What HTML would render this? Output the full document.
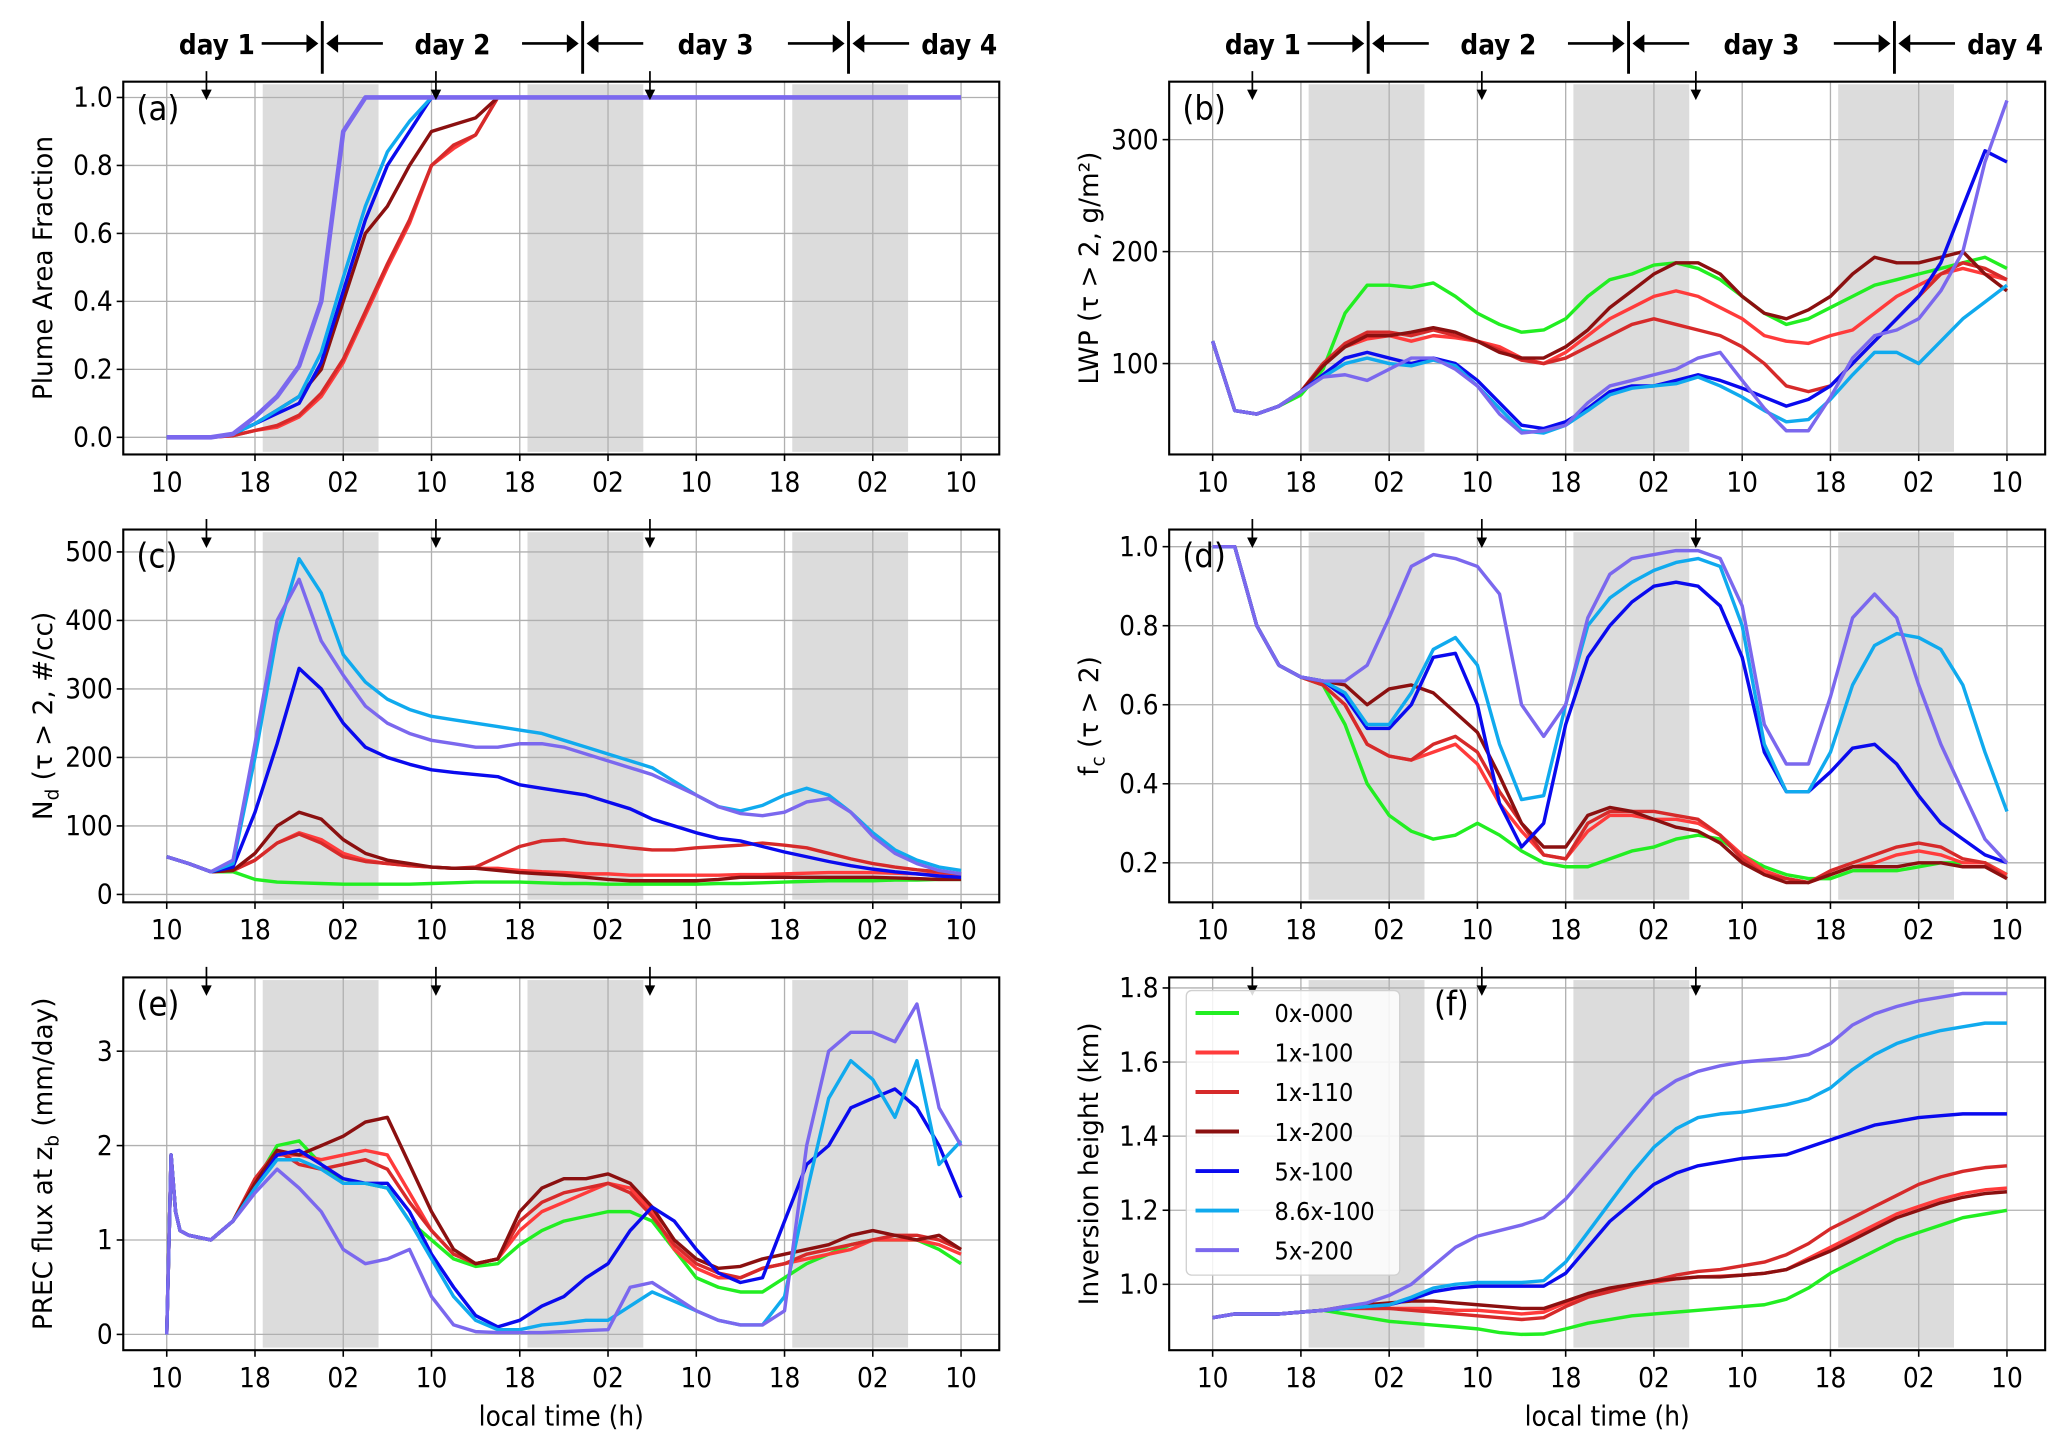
<!DOCTYPE html>
<html><head><meta charset="utf-8">
<style>
html,body{margin:0;padding:0;background:#fff;}
svg{display:block;}
.tk{font-family:"DejaVu Sans Condensed","Liberation Sans Narrow","Liberation Sans",sans-serif;font-size:21px;fill:#000;}
.yl{font-family:"DejaVu Sans","Liberation Sans",sans-serif;font-size:20px;fill:#000;}
.hd{font-family:"DejaVu Sans Condensed","Liberation Sans Narrow","Liberation Sans",sans-serif;font-size:21px;font-weight:bold;fill:#000;}
.pl{font-family:"DejaVu Sans Condensed","Liberation Sans Narrow","Liberation Sans",sans-serif;font-size:26px;fill:#000;}
.lg{font-family:"DejaVu Sans Condensed","Liberation Sans Narrow","Liberation Sans",sans-serif;font-size:19px;fill:#000;}
</style></head>
<body>
<svg id="fig" width="2067" height="1449" viewBox="0 0 1568 1100" xmlns="http://www.w3.org/2000/svg"></svg>
<script>
// ---- data (values at local-time hours T, starting 10:00 day 1) ----
const T = [0,2,4,6,8,10,12,14,16,18,20,22,24,26,28,30,32,34,36,38,40,42,44,46,48,50,52,54,56,58,60,62,64,66,68,70,72];
const TE = [0,0.4,0.8,1.2,2,4,6,8,10,12,14,16,18,20,22,24,26,28,30,32,34,36,38,40,42,44,46,48,50,52,54,56,58,60,62,64,66,68,70,72];
const seriesNames = ["0x-000","1x-100","1x-110","1x-200","5x-100","8.6x-100","5x-200"];
const xTicks = [0,8,16,24,32,40,48,56,64,72];
const xTickLabels = ["10","18","02","10","18","02","10","18","02","10"];
const nightStart = [8.7,32.7,56.7];
const nightEnd = [19.2,43.2,67.2];
const arrowTimes = [3.6,24.4,43.8];
const daySeps = [14.1,37.7,61.8];
const N=null;

const aTicks=[0,0.2,0.4,0.6,0.8,1.0], aLabels=["0.0","0.2","0.4","0.6","0.8","1.0"];
const a0=[N,N,N,N,N,N,N,N,N,N,N,N,N,N,N,N,N,N,N,N,N,N,N,N,N,N,N,N,N,N,N,N,N,N,N,N,N];
const a1=[0,0,0,0.005,0.02,0.03,0.06,0.12,0.22,0.36,0.5,0.63,0.8,0.85,0.89,1,N,N,N,N,N,N,N,N,N,N,N,N,N,N,N,N,N,N,N,N,N];
const a2=[0,0,0,0.005,0.02,0.035,0.065,0.13,0.23,0.37,0.51,0.64,0.8,0.86,0.89,1,N,N,N,N,N,N,N,N,N,N,N,N,N,N,N,N,N,N,N,N,N];
const a3=[0,0,0,0.01,0.04,0.08,0.12,0.2,0.4,0.6,0.68,0.8,0.9,0.92,0.94,1,N,N,N,N,N,N,N,N,N,N,N,N,N,N,N,N,N,N,N,N,N];
const a4=[0,0,0,0.01,0.04,0.07,0.1,0.22,0.43,0.64,0.8,0.9,1,N,N,N,N,N,N,N,N,N,N,N,N,N,N,N,N,N,N,N,N,N,N,N,N];
const a5=[0,0,0,0.01,0.04,0.08,0.12,0.25,0.47,0.68,0.84,0.93,1,N,N,N,N,N,N,N,N,N,N,N,N,N,N,N,N,N,N,N,N,N,N,N,N];
const a6=[0,0,0,0.01,0.06,0.12,0.21,0.4,0.9,1,1,1,1,1,1,1,1,1,1,1,1,1,1,1,1,1,1,1,1,1,1,1,1,1,1,1,1];

const bTicks=[100,200,300], bLabels=["100","200","300"];
const b0=[120,58,55,62,72,95,145,170,170,168,172,160,145,135,128,130,140,160,175,180,188,190,185,175,160,145,135,140,150,160,170,175,180,185,190,195,185];
const b1=[120,58,55,62,75,100,115,122,125,120,125,123,120,115,105,100,110,125,140,150,160,165,160,150,140,125,120,118,125,130,145,160,170,180,185,180,175];
const b2=[120,58,55,62,75,100,118,128,128,125,130,125,120,112,103,100,105,115,125,135,140,135,130,125,115,100,80,75,80,100,120,140,160,180,190,185,175];
const b3=[120,58,55,62,75,98,115,125,125,128,132,128,120,110,105,105,115,130,150,165,180,190,190,180,160,145,140,148,160,180,195,190,190,195,200,180,165];
const b4=[120,58,55,62,75,90,105,110,105,100,105,100,85,65,45,42,48,60,75,80,80,85,90,85,78,70,62,68,80,100,120,140,160,190,240,290,280];
const b5=[120,58,55,62,75,88,100,105,100,98,103,98,80,60,40,38,45,58,72,78,80,82,88,80,70,58,48,50,68,90,110,110,100,120,140,155,170];
const b6=[120,58,55,62,75,88,90,85,95,105,105,95,80,55,38,40,45,65,80,85,90,95,105,110,85,60,40,40,70,105,125,130,140,165,200,280,335];

const cTicks=[0,100,200,300,400,500], cLabels=["0","100","200","300","400","500"];
const c0=[55,45,33,33,22,18,17,16,15,15,15,15,16,17,18,18,18,17,16,16,15,15,15,15,15,16,16,17,18,19,20,20,20,21,21,22,22];
const c1=[55,45,33,35,50,75,90,80,60,50,45,42,40,38,38,38,35,33,32,30,30,28,28,28,28,28,29,29,30,31,32,32,32,31,30,29,28];
const c2=[55,45,33,35,50,75,88,75,55,48,45,42,40,38,40,55,70,78,80,75,72,68,65,65,68,70,72,75,72,68,60,52,45,40,36,33,30];
const c3=[55,45,33,35,60,100,120,110,80,60,50,45,40,38,38,35,32,30,28,25,22,20,20,20,20,22,25,25,25,25,25,25,25,24,23,22,22];
const c4=[55,45,33,40,120,220,330,300,250,215,200,190,182,178,175,172,160,155,150,145,135,125,110,100,90,82,78,70,62,55,48,42,37,33,30,27,25];
const c5=[55,45,33,45,200,380,490,440,350,310,285,270,260,255,250,245,240,235,225,215,205,195,185,165,145,128,122,130,145,155,145,120,90,65,50,40,35];
const c6=[55,45,33,50,220,400,460,370,320,275,250,235,225,220,215,215,220,220,215,205,195,185,175,160,145,128,118,115,120,135,140,120,85,60,45,35,30];

const dTicks=[0.2,0.4,0.6,0.8,1.0], dLabels=["0.2","0.4","0.6","0.8","1.0"];
const d0=[1,1,0.8,0.7,0.67,0.65,0.55,0.4,0.32,0.28,0.26,0.27,0.3,0.27,0.23,0.2,0.19,0.19,0.21,0.23,0.24,0.26,0.27,0.26,0.22,0.19,0.17,0.16,0.16,0.18,0.18,0.18,0.19,0.2,0.2,0.2,0.17];
const d1=[1,1,0.8,0.7,0.67,0.65,0.6,0.5,0.47,0.46,0.48,0.5,0.45,0.35,0.28,0.22,0.21,0.28,0.32,0.32,0.31,0.31,0.3,0.27,0.22,0.18,0.16,0.15,0.17,0.19,0.2,0.22,0.23,0.22,0.2,0.2,0.17];
const d2=[1,1,0.8,0.7,0.67,0.65,0.6,0.5,0.47,0.46,0.5,0.52,0.48,0.38,0.3,0.22,0.21,0.3,0.33,0.33,0.33,0.32,0.31,0.27,0.21,0.17,0.16,0.15,0.18,0.2,0.22,0.24,0.25,0.24,0.21,0.2,0.16];
const d3=[1,1,0.8,0.7,0.67,0.66,0.65,0.6,0.64,0.65,0.63,0.58,0.53,0.42,0.3,0.24,0.24,0.32,0.34,0.33,0.31,0.29,0.28,0.25,0.2,0.17,0.15,0.15,0.17,0.19,0.19,0.19,0.2,0.2,0.19,0.19,0.16];
const d4=[1,1,0.8,0.7,0.67,0.66,0.62,0.54,0.54,0.6,0.72,0.73,0.6,0.35,0.24,0.3,0.55,0.72,0.8,0.86,0.9,0.91,0.9,0.85,0.72,0.48,0.38,0.38,0.43,0.49,0.5,0.45,0.37,0.3,0.26,0.22,0.2];
const d5=[1,1,0.8,0.7,0.67,0.66,0.63,0.55,0.55,0.63,0.74,0.77,0.7,0.5,0.36,0.37,0.6,0.8,0.87,0.91,0.94,0.96,0.97,0.95,0.8,0.5,0.38,0.38,0.48,0.65,0.75,0.78,0.77,0.74,0.65,0.48,0.33];
const d6=[1,1,0.8,0.7,0.67,0.66,0.66,0.7,0.82,0.95,0.98,0.97,0.95,0.88,0.6,0.52,0.6,0.82,0.93,0.97,0.98,0.99,0.99,0.97,0.85,0.55,0.45,0.45,0.62,0.82,0.88,0.82,0.65,0.5,0.38,0.26,0.2];

const eTicks=[0,1,2,3], eLabels=["0","1","2","3"];
const e0=[0,1.9,1.3,1.1,1.05,1.0,1.2,1.6,2.0,2.05,1.8,1.6,1.6,1.55,1.2,1.0,0.8,0.72,0.75,0.95,1.1,1.2,1.25,1.3,1.3,1.2,0.9,0.6,0.5,0.45,0.45,0.6,0.75,0.85,0.95,1.0,1.0,1.0,0.9,0.75];
const e1=[0,1.9,1.3,1.1,1.05,1.0,1.2,1.6,1.9,1.9,1.85,1.9,1.95,1.9,1.5,1.1,0.85,0.75,0.8,1.1,1.3,1.4,1.5,1.6,1.55,1.3,0.9,0.7,0.6,0.6,0.7,0.75,0.8,0.85,0.9,1.0,1.0,1.0,0.95,0.85];
const e2=[0,1.9,1.3,1.1,1.05,1.0,1.2,1.65,1.95,1.8,1.75,1.8,1.85,1.75,1.4,1.1,0.85,0.75,0.8,1.2,1.4,1.5,1.55,1.6,1.5,1.25,0.95,0.75,0.65,0.6,0.7,0.75,0.85,0.9,0.95,1.0,1.05,1.05,1.0,0.9];
const e3=[0,1.9,1.3,1.1,1.05,1.0,1.2,1.6,1.95,1.9,2.0,2.1,2.25,2.3,1.8,1.3,0.9,0.75,0.8,1.3,1.55,1.65,1.65,1.7,1.6,1.35,1.0,0.8,0.7,0.72,0.8,0.85,0.9,0.95,1.05,1.1,1.05,1.0,1.05,0.9];
const e4=[0,1.9,1.3,1.1,1.05,1.0,1.2,1.55,1.9,1.95,1.8,1.65,1.6,1.6,1.3,0.85,0.5,0.2,0.08,0.15,0.3,0.4,0.6,0.75,1.1,1.35,1.2,0.9,0.65,0.55,0.6,1.2,1.8,2.0,2.4,2.5,2.6,2.4,2.0,1.45];
const e5=[0,1.9,1.3,1.1,1.05,1.0,1.2,1.55,1.85,1.85,1.75,1.6,1.6,1.55,1.2,0.8,0.4,0.15,0.05,0.05,0.1,0.12,0.15,0.15,0.3,0.45,0.35,0.25,0.15,0.1,0.1,0.4,1.5,2.5,2.9,2.7,2.3,2.9,1.8,2.05];
const e6=[0,1.9,1.3,1.1,1.05,1.0,1.2,1.5,1.75,1.55,1.3,0.9,0.75,0.8,0.9,0.4,0.1,0.03,0.02,0.02,0.02,0.03,0.04,0.05,0.5,0.55,0.4,0.25,0.15,0.1,0.1,0.25,2.0,3.0,3.2,3.2,3.1,3.5,2.4,2.0];

const fTicks=[1.0,1.2,1.4,1.6,1.8], fLabels=["1.0","1.2","1.4","1.6","1.8"];
const f0=[0.91,0.92,0.92,0.92,0.925,0.93,0.92,0.91,0.9,0.895,0.89,0.885,0.88,0.87,0.865,0.866,0.88,0.895,0.905,0.915,0.92,0.925,0.93,0.935,0.94,0.945,0.96,0.99,1.03,1.06,1.09,1.12,1.14,1.16,1.18,1.19,1.2];
const f1=[0.91,0.92,0.92,0.92,0.925,0.93,0.935,0.935,0.935,0.935,0.935,0.93,0.93,0.925,0.92,0.925,0.95,0.97,0.985,0.995,1.005,1.015,1.02,1.022,1.025,1.03,1.04,1.07,1.1,1.13,1.16,1.19,1.21,1.23,1.245,1.255,1.26];
const f2=[0.91,0.92,0.92,0.92,0.925,0.93,0.935,0.935,0.935,0.93,0.925,0.92,0.915,0.91,0.905,0.91,0.94,0.965,0.98,0.995,1.01,1.025,1.035,1.04,1.05,1.06,1.08,1.11,1.15,1.18,1.21,1.24,1.27,1.29,1.305,1.315,1.32];
const f3=[0.91,0.92,0.92,0.92,0.925,0.93,0.94,0.945,0.95,0.955,0.955,0.95,0.945,0.94,0.935,0.935,0.955,0.975,0.99,1.0,1.01,1.015,1.02,1.02,1.025,1.03,1.04,1.065,1.09,1.12,1.15,1.18,1.2,1.22,1.235,1.245,1.25];
const f4=[0.91,0.92,0.92,0.92,0.925,0.93,0.935,0.94,0.945,0.96,0.98,0.99,0.995,0.995,0.995,0.995,1.03,1.1,1.17,1.22,1.27,1.3,1.32,1.33,1.34,1.345,1.35,1.37,1.39,1.41,1.43,1.44,1.45,1.455,1.46,1.46,1.46];
const f5=[0.91,0.92,0.92,0.92,0.925,0.93,0.935,0.94,0.945,0.965,0.99,1.0,1.005,1.005,1.005,1.01,1.06,1.14,1.22,1.3,1.37,1.42,1.45,1.46,1.465,1.475,1.485,1.5,1.53,1.58,1.62,1.65,1.67,1.685,1.695,1.705,1.705];
const f6=[0.91,0.92,0.92,0.92,0.925,0.93,0.94,0.95,0.97,1.0,1.05,1.1,1.13,1.145,1.16,1.18,1.23,1.3,1.37,1.44,1.51,1.55,1.575,1.59,1.6,1.605,1.61,1.62,1.65,1.7,1.73,1.75,1.765,1.775,1.785,1.785,1.785];

const colors=["#22ee22","#ff3b3b","#d62a2a","#8b1010","#0a0aee","#10aaee","#7b68ee"];

// ---- drawing ----
const svg=document.getElementById('fig');
const NS="http://www.w3.org/2000/svg";
function mk(tag,attrs,parent){const e=document.createElementNS(NS,tag);for(const k in attrs)e.setAttribute(k,attrs[k]);(parent||svg).appendChild(e);return e;}

const panels=[
 {id:"a",x0:93,x1:758,y0:62,y1:345,tx0:126,v0:0,py0:332,v1:1,py1:74,ticks:aTicks,labels:aLabels,data:[a0,a1,a2,a3,a4,a5,a6],t:T,ylab:"Plume Area Fraction",ylx:32,xl:false},
 {id:"b",x0:887,x1:1552,y0:62,y1:345,tx0:920,v0:100,py0:276,v1:300,py1:106,ticks:bTicks,labels:bLabels,data:[b0,b1,b2,b3,b4,b5,b6],t:T,ylab:"LWP (τ > 2, g/m²)",ylx:826,xl:false},
 {id:"c",x0:93,x1:758,y0:402,y1:685,tx0:126,v0:0,py0:679,v1:500,py1:419,ticks:cTicks,labels:cLabels,data:[c0,c1,c2,c3,c4,c5,c6],t:T,ylab:"N_d (τ > 2, #/cc)",ylx:32,xl:false},
 {id:"d",x0:887,x1:1552,y0:402,y1:685,tx0:920,v0:0.2,py0:655,v1:1.0,py1:415,ticks:dTicks,labels:dLabels,data:[d0,d1,d2,d3,d4,d5,d6],t:T,ylab:"f_c (τ > 2)",ylx:826,xl:false},
 {id:"e",x0:93,x1:758,y0:742,y1:1025,tx0:126,v0:0,py0:1013,v1:3,py1:798,ticks:eTicks,labels:eLabels,data:[e0,e1,e2,e3,e4,e5,e6],t:TE,ylab:"PREC flux at z_b (mm/day)",ylx:32,xl:true},
 {id:"f",x0:887,x1:1552,y0:742,y1:1025,tx0:920,v0:1.0,py0:975,v1:1.8,py1:750,ticks:fTicks,labels:fLabels,data:[f0,f1,f2,f3,f4,f5,f6],t:T,ylab:"Inversion height (km)",ylx:826,xl:true}
];
const HR=8.375;

panels.forEach(p=>{
  const g=mk('g',{});
  
  
  const X=t=>p.tx0+HR*t;
  const Y=v=>p.py0+(v-p.v0)*(p.py1-p.py0)/(p.v1-p.v0);
  for(let i=0;i<nightStart.length;i++){
    const r=mk('rect',{x:X(nightStart[i]),y:p.y0+2,width:X(nightEnd[i])-X(nightStart[i]),height:p.y1-p.y0-4,fill:"#dcdcdc"},g);
    
    
  }
  xTicks.forEach(t=>{const l=mk('line',{x1:X(t),x2:X(t),y1:p.y0,y2:p.y1,stroke:"#b0b0b0","stroke-width":1},g);});
  p.ticks.forEach(v=>{const l=mk('line',{x1:p.x0,x2:p.x1,y1:Y(v),y2:Y(v),stroke:"#b0b0b0","stroke-width":1},g);});
  p.data.forEach((arr,si)=>{
    let d="",pen=false;
    arr.forEach((v,i)=>{
      if(v===null||i>=p.t.length){pen=false;return;}
      d+=(pen?"L":"M")+X(p.t[i]).toFixed(1)+","+Y(v).toFixed(1);pen=true;
    });
    if(!d)return;
    const w=(p.id==="a"&&si===6)?3.5:2.6;
    const path=mk('path',{d:d,fill:"none",stroke:colors[si],"stroke-width":w,"stroke-linejoin":"round"},g);
    
    
  });
  const fr=mk('rect',{x:p.x0,y:p.y0,width:p.x1-p.x0,height:p.y1-p.y0,fill:"none",stroke:"#000","stroke-width":1.6},g);
  
  
  xTicks.forEach((t,i)=>{
    mk('line',{x1:X(t),x2:X(t),y1:p.y1,y2:p.y1+5,stroke:"#000","stroke-width":1.2},g);
    const tx=mk('text',{x:X(t),y:p.y1+28,"text-anchor":"middle",class:"tk"},g);
    tx.textContent=xTickLabels[i];
    
    
  });
  p.ticks.forEach((v,i)=>{
    mk('line',{x1:p.x0-5,x2:p.x0,y1:Y(v),y2:Y(v),stroke:"#000","stroke-width":1.2},g);
    const tx=mk('text',{x:p.x0-8,y:Y(v)+7,"text-anchor":"end",class:"tk"},g);
    tx.textContent=p.labels[i];
    
    
  });
  arrowTimes.forEach(t=>{
    mk('line',{x1:X(t),x2:X(t),y1:p.y0-8,y2:p.y0+12,stroke:"#000","stroke-width":1.3},g);
    const ah=mk('path',{d:`M${X(t)-4},${p.y0+6}L${X(t)},${p.y0+14}L${X(t)+4},${p.y0+6}Z`,fill:"#000"},g);
    
    
  });
  const lx=(p.id==="f")?1088:p.x0+10;
  const pl=mk('text',{x:lx,y:p.y0+29,class:"pl"},g);
  pl.textContent="("+p.id+")";
  
  
  const cy=(p.y0+p.y1)/2;
  const yl=mk('text',{x:p.ylx,y:cy,"text-anchor":"middle",class:"yl",transform:`rotate(-90 ${p.ylx} ${cy})`,dy:"7"},g);
  
  
  const m=p.ylab.match(/^(.*?)_(\w)(.*)$/);
  if(m){
    yl.appendChild(document.createTextNode(m[1]));
    const s=mk('tspan',{"font-size":"14px",dy:"5"},yl);s.textContent=m[2];
    const r=mk('tspan',{dy:"-5"},yl);r.textContent=m[3];
  } else yl.textContent=p.ylab;
  if(p.xl){
    const xl=mk('text',{x:(p.x0+p.x1)/2,y:1082,"text-anchor":"middle",class:"tk"},g);
    xl.textContent="local time (h)";
    
    
  }
  if(p.id==="a"||p.id==="b"){
    const hg=mk('g',{});
    
    
    const yc=33;
    const seps=daySeps.map(X);
    seps.forEach(sx=>{
      mk('line',{x1:sx,x2:sx,y1:16,y2:56,stroke:"#000","stroke-width":2.2},hg);
      mk('line',{x1:sx-46,x2:sx-10,y1:yc,y2:yc,stroke:"#000","stroke-width":2},hg);
      mk('path',{d:`M${sx-12},${yc-7}L${sx-3},${yc}L${sx-12},${yc+7}Z`,fill:"#000"},hg);
      mk('line',{x1:sx+10,x2:sx+46,y1:yc,y2:yc,stroke:"#000","stroke-width":2},hg);
      mk('path',{d:`M${sx+12},${yc-7}L${sx+3},${yc}L${sx+12},${yc+7}Z`,fill:"#000"},hg);
    });
    const labX=[seps[0]-80,(seps[0]+seps[1])/2,(seps[1]+seps[2])/2,seps[2]+84];
    labX.forEach((lx,i)=>{
      const t=mk('text',{x:lx,y:yc+8,"text-anchor":"middle",class:"hd"},hg);
      t.textContent="day "+(i+1);
      
      
    });
  }
});

const lg=mk('g',{});


mk('rect',{x:900,y:752,width:162,height:216,rx:4,fill:"#fff","fill-opacity":0.85,stroke:"#d0d0d0","stroke-width":1},lg);
seriesNames.forEach((n,i)=>{
  const yy=769+30*i;
  const e=mk('g',{},lg);
  
  
  mk('line',{x1:907,x2:940,y1:yy,y2:yy,stroke:colors[i],"stroke-width":3},e);
  const t=mk('text',{x:967,y:yy+7,class:"lg"},e);
  t.textContent=n;
});
</script>
</body></html>
